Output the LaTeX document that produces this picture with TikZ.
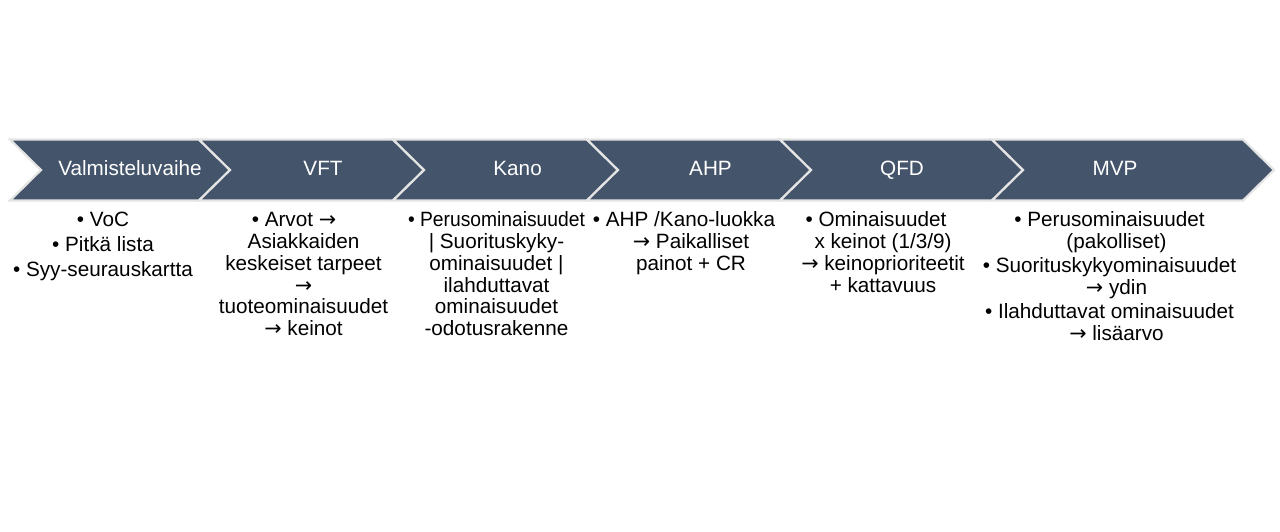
\documentclass[tikz,border=0pt]{standalone}
\usepackage{fontspec}
\setmainfont{Liberation Sans}
\newfontfamily\arrowfont{DejaVu Sans}
\definecolor{chev}{HTML}{44546A}
\definecolor{sep}{HTML}{E4E4E4}
\newcommand\cont{\hspace*{14pt}}
\newcommand\contb{\hspace*{19pt}}
\newcommand\arr{{\arrowfont →}}
\newcommand\fl{\rule{0pt}{16pt}}
\tikzset{
  chevron/.style={fill=chev, draw=sep, line width=2.2pt, line join=miter},
  head/.style={text=white, font=\fontsize{20.7}{21.7}\selectfont, anchor=base, inner sep=0pt},
  body/.style={text=black, align=center, font=\fontsize{20.7}{21.7}\selectfont, anchor=north, inner sep=0pt},
}
\begin{document}
\begin{tikzpicture}[x=1pt,y=-1pt]
\useasboundingbox (0,0) rectangle (1280,531);
% chevrons
\draw[chevron] (10,139.5) -- (199,139.5) -- (230,170) -- (199,200.5) -- (10,200.5) -- (41,170) -- cycle;
\draw[chevron] (199,139.5) -- (393,139.5) -- (424,170) -- (393,200.5) -- (199,200.5) -- (230,170) -- cycle;
\draw[chevron] (393,139.5) -- (587,139.5) -- (618,170) -- (587,200.5) -- (393,200.5) -- (424,170) -- cycle;
\draw[chevron] (587,139.5) -- (780,139.5) -- (811,170) -- (780,200.5) -- (587,200.5) -- (618,170) -- cycle;
\draw[chevron] (780,139.5) -- (992,139.5) -- (1023,170) -- (992,200.5) -- (780,200.5) -- (811,170) -- cycle;
\draw[chevron] (992,139.5) -- (1243,139.5) -- (1274,170) -- (1243,200.5) -- (992,200.5) -- (1023,170) -- cycle;
% headers
\node[head] (h1) at (130,175.7) {Valmisteluvaihe};
\node[head] (h2) at (323,175.7) {VFT};
\node[head] (h3) at (517.6,175.7) {Kano};
\node[head] (h4) at (710.5,175.7) {AHP};
\node[head] (h5) at (902,175.7) {QFD};
\node[head] (h6) at (1115,175.7) {MVP};
% bodies
\node[body] (b1) at (103,210.7) {\fl• VoC\\[3.3pt]• Pitkä lista\\[3.3pt]• Syy-seurauskartta};
\node[body] (b2) at (294,210.7) {\fl• Arvot \arr\\\contb Asiakkaiden\\\contb keskeiset tarpeet\\\contb \arr\\\contb tuoteominaisuudet\\\contb \arr{} keinot};
\node[body] (b3) at (496.5,210.7) {\fl\scalebox{0.93}[1]{• Perusominaisuudet}\\| Suorituskyky-\\ominaisuudet |\\ilahduttavat\\ominaisuudet\\-odotusrakenne};
\node[body] (b4) at (684,210.7) {\fl• AHP /Kano-luokka\\\cont \arr{} Paikalliset\\\cont painot + CR};
\node[body] (b5) at (876,210.7) {\fl• Ominaisuudet\\\cont x keinot (1/3/9)\\\cont \arr{} keinoprioriteetit\\\cont + kattavuus};
\node[body] (b6) at (1109.5,210.7) {\fl• Perusominaisuudet\\\cont (pakolliset)\\[2.5pt]• Suorituskykyominaisuudet\\\cont \arr{} ydin\\[2.5pt]• Ilahduttavat ominaisuudet\\\cont \arr{} lisäarvo};
\end{tikzpicture}
\end{document}
